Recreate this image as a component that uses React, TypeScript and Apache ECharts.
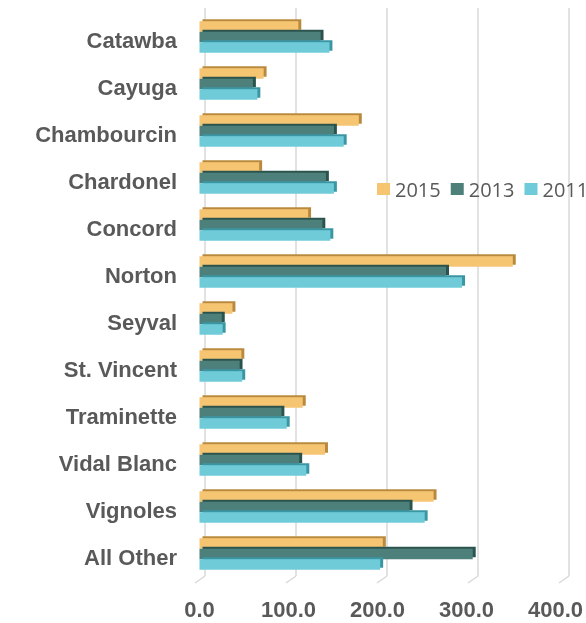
import React, { useEffect, useRef } from "react";
import * as echarts from "echarts";

const categories = ["Catawba", "Cayuga", "Chambourcin", "Chardonel", "Concord", "Norton", "Seyval", "St. Vincent", "Traminette", "Vidal Blanc", "Vignoles", "All Other"];
const v2015 = [111, 72, 179, 67, 122, 352, 37, 47, 116, 141, 263, 206];
const v2013 = [136, 60, 151, 142, 138, 277, 25, 45, 92, 112, 236, 307];
const v2011 = [146, 65, 162, 151, 147, 295, 26, 48, 98, 120, 253, 203];
const xTicks = [0, 100, 200, 300, 400];
const seriesNames = ["2015", "2013", "2011"];

const COLORS = ["#F6C572", "#4E807A", "#6FCBD9"];
const SIDES = ["#B98A3E", "#2C524D", "#3B96A4"];

export default function App() {
  const ref = useRef<HTMLDivElement>(null);
  useEffect(() => {
    if (!ref.current) return;
    const chart = echarts.init(ref.current, null, { renderer: "svg" });
    const gray = "#595959";
    const values = [v2015, v2013, v2011];
    const barSeries = seriesNames.map((name, i) => ({
      name,
      type: "bar",
      xAxisIndex: 0,
      yAxisIndex: 0,
      data: values[i],
      barWidth: 10.5,
      barGap: "0%",
      itemStyle: {
        color: COLORS[i],
        shadowColor: SIDES[i],
        shadowOffsetX: 3,
        shadowOffsetY: -2,
        shadowBlur: 0,
      },
    }));
    chart.setOption({
      animation: false,
      grid: [
        { left: 199.5, width: 364, top: 13.5, height: 564 },
        { left: 205, width: 364, top: 16.5, height: 564 },
        { left: 205, width: 364, top: 8, bottom: 47 },
      ],
      legend: {
        data: seriesNames,
        left: 372,
        top: 174,
        width: 400,
        itemWidth: 13,
        itemHeight: 12,
        itemGap: 10,
        icon: "rect",
        textStyle: { fontSize: 20, color: gray, fontFamily: "Open Sans" },
      },
      xAxis: [
        {
          type: "value", gridIndex: 0, min: 0, max: 400, interval: 100,
          axisLine: { show: false }, axisTick: { show: false }, splitLine: { show: false },
          axisLabel: {
            margin: 21, fontSize: 22, fontWeight: "bold", color: gray, fontFamily: "Liberation Sans",
            formatter: (v: number) => v.toFixed(1),
          },
        },
        {
          type: "value", gridIndex: 1, min: 0, max: 400, interval: 100,
          axisLine: { show: false }, axisTick: { show: false }, splitLine: { show: false }, axisLabel: { show: false },
        },
        {
          type: "value", gridIndex: 2, min: 0, max: 400, interval: 100,
          axisLine: { show: false }, axisTick: { show: false }, axisLabel: { show: false },
          splitLine: { show: true, lineStyle: { color: "#d9d9d9", width: 1.5 } },
        },
      ],
      yAxis: [
        {
          type: "category", gridIndex: 0, data: categories, inverse: true,
          axisLine: { show: false }, axisTick: { show: false }, axisLabel: { show: false },
        },
        {
          type: "category", gridIndex: 1, data: categories, inverse: true,
          axisLine: { show: false }, axisTick: { show: false },
          axisLabel: { margin: 28, fontSize: 22, fontWeight: "bold", color: gray, fontFamily: "Liberation Sans" },
        },
        {
          type: "value", gridIndex: 2, min: 0, max: 1, show: false,
        },
      ],
      series: [
        {
          type: "custom",
          xAxisIndex: 2,
          yAxisIndex: 2,
          silent: true,
          data: xTicks.map((t) => [t, 0]),
          renderItem: (params: any, api: any) => {
            const p = api.coord([api.value(0), 0]);
            return {
              type: "line",
              shape: { x1: p[0], y1: p[1], x2: p[0] - 10, y2: p[1] + 7 },
              style: { stroke: "#d9d9d9", lineWidth: 1.5 },
            };
          },
        },
        ...barSeries,
      ],
    });
    return () => chart.dispose();
  }, []);
  return <div ref={ref} style={{ position: "fixed", left: 0, top: 0, width: 586, height: 623 }} />;
}
